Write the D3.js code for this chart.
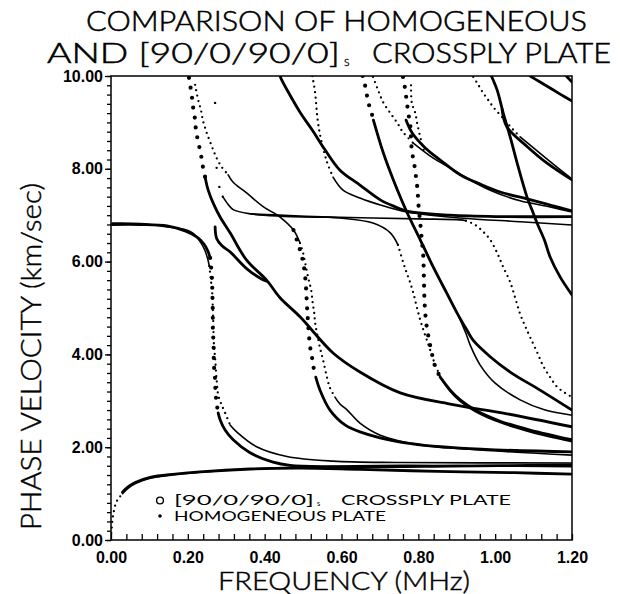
<!DOCTYPE html>
<html><head><meta charset="utf-8">
<script src="https://cdn.jsdelivr.net/npm/d3@7"></script>
<style>
body{margin:0;background:#fff}
svg text{fill:#000}
</style></head>
<body><svg id="chart" width="620" height="594"></svg>
<script>
// Axis ticks and labels
const freqTicks = [0, 0.2, 0.4, 0.6, 0.8, 1.0, 1.2];
const freqTickLabels = ["0.00", "0.20", "0.40", "0.60", "0.80", "1.00", "1.20"];
const velTicks = [0, 2, 4, 6, 8, 10];
const velTickLabels = ["0.00", "2.00", "4.00", "6.00", "8.00", "10.00"];

// Dispersion branches, [frequency MHz, phase velocity km/sec]
// ---- [90/0/90/0]s crossply plate ----
const crossplyFund = [[0.030,1.03],[0.042,1.13],[0.063,1.24],[0.102,1.35],[0.167,1.42],[0.232,1.47],[0.362,1.53],[0.492,1.55],[0.650,1.52],[0.850,1.48],[1.050,1.45],[1.200,1.42]];
const crossplyS0Plateau = [[0.003,6.80],[0.076,6.80],[0.146,6.77],[0.193,6.66],[0.224,6.53],[0.242,6.38],[0.253,6.21],[0.258,6.08]];
const crossplyS0Drop = [[0.258,6.08],[0.260,5.93],[0.263,5.60],[0.264,5.26],[0.265,4.89],[0.265,4.59],[0.267,4.20],[0.268,3.77],[0.271,3.45],[0.272,3.19],[0.275,2.95],[0.279,2.74]];
const crossplyS0Tail = [[0.279,2.74],[0.284,2.59],[0.297,2.37],[0.318,2.16],[0.362,1.88],[0.422,1.68],[0.466,1.61],[0.570,1.58],[0.883,1.59],[1.200,1.62]];
const crossplyM2Drop = [[0.203,9.96],[0.210,9.59],[0.214,9.31],[0.219,9.05],[0.221,8.84],[0.225,8.66],[0.230,8.47],[0.234,8.34],[0.236,8.19],[0.240,8.01],[0.245,7.82]];
const crossplyM2 = [[0.245,7.82],[0.253,7.54],[0.266,7.26],[0.284,6.96],[0.310,6.62],[0.353,6.03],[0.405,5.60],[0.440,5.22],[0.492,4.81],[0.578,4.03],[0.648,3.62],[0.753,3.17],[0.883,2.93],[1.031,2.72],[1.200,2.44]];
const crossplyM2Branch = [[0.271,6.75],[0.275,6.50],[0.289,6.34],[0.310,6.21],[0.353,5.85],[0.393,5.62],[0.405,5.58]];
const crossplyM3Drop = [[0.475,6.68],[0.492,6.25],[0.500,5.99],[0.505,5.71],[0.508,5.39],[0.510,5.06],[0.513,4.68],[0.518,4.18],[0.523,3.95],[0.527,3.73],[0.533,3.51]];
const crossplyM3Tail = [[0.533,3.51],[0.544,3.23],[0.570,2.80],[0.609,2.48],[0.648,2.33],[0.753,2.11],[0.909,1.98],[1.200,1.90]];
const crossplyM5 = [[0.440,10.0],[0.443,9.94],[0.461,9.66],[0.492,9.22],[0.526,8.81],[0.557,8.41],[0.596,7.97],[0.648,7.65],[0.701,7.33],[0.740,7.18],[0.770,7.09],[0.883,7.00],[1.013,6.97],[1.200,6.97]];
const crossplyM6Drop = [[0.760,9.98],[0.766,9.70],[0.770,9.44],[0.774,9.20],[0.779,8.94],[0.783,8.40],[0.789,8.12],[0.794,7.82],[0.798,7.54],[0.800,7.26],[0.805,6.83],[0.809,6.47],[0.813,6.10],[0.814,5.82],[0.815,5.45],[0.816,5.17],[0.818,4.89],[0.822,4.59],[0.828,4.31],[0.835,4.03],[0.844,3.73],[0.857,3.51]];
const crossplyM6Tail = [[0.857,3.51],[0.883,3.23],[0.909,3.02],[0.948,2.80],[1.013,2.56],[1.091,2.37],[1.200,2.16]];
const crossplyM7Top = [[0.655,10.0],[0.661,9.81],[0.666,9.59],[0.670,9.42],[0.676,9.27],[0.683,9.05]];
const crossplyM7 = [[0.683,9.05],[0.709,8.34],[0.735,7.76],[0.770,7.07],[0.805,6.47],[0.839,5.88],[0.874,5.32],[0.901,4.89],[0.926,4.53],[0.943,4.30],[0.987,3.95],[1.039,3.62],[1.117,3.23],[1.200,2.80]];
const crossplyM8 = [[0.768,9.05],[0.784,8.77],[0.818,8.45],[0.857,8.19],[0.909,7.87],[0.961,7.67],[1.013,7.50],[1.083,7.35],[1.143,7.22],[1.200,7.09]];
const crossplyM9 = [[0.990,10.0],[1.005,9.70],[1.021,9.20],[1.039,8.69],[1.060,8.04],[1.083,7.39],[1.096,7.11],[1.109,6.83],[1.128,6.47],[1.143,6.10],[1.169,5.67],[1.200,5.28]];
const crossplyM10 = [[1.018,9.28],[1.030,8.91],[1.083,8.48],[1.135,8.12],[1.200,7.76]];
const crossplyM11 = [[1.091,10.0],[1.117,9.87],[1.143,9.74],[1.169,9.61],[1.200,9.46]];
const crossplyM12 = [[1.185,10.0],[1.200,9.87]];

// ---- homogeneous plate ----
const homogFundDots = [[0.001,0.15],[0.004,0.45],[0.008,0.64],[0.013,0.80],[0.020,0.90],[0.030,1.00]];
const homogFund = [[0.030,1.00],[0.045,1.12],[0.065,1.22],[0.102,1.33],[0.167,1.41],[0.232,1.46],[0.362,1.53],[0.492,1.57],[0.753,1.61],[0.961,1.60],[1.200,1.58]];
const homogS0Plateau = [[0.003,6.83],[0.076,6.82],[0.154,6.74],[0.188,6.70],[0.214,6.61],[0.232,6.43],[0.244,6.25],[0.252,6.05],[0.256,5.90]];
const homogS0Drop = [[0.256,5.90],[0.260,5.60],[0.263,5.39],[0.266,4.74],[0.268,4.20],[0.271,3.92],[0.275,3.45],[0.279,3.13],[0.288,2.91],[0.297,2.74],[0.310,2.48]];
const homogS0Tail = [[0.310,2.48],[0.327,2.33],[0.379,2.01],[0.458,1.80],[0.578,1.70],[0.753,1.67],[1.200,1.66]];
const homogM2Drop = [[0.219,9.81],[0.227,9.48],[0.234,9.27],[0.239,9.05],[0.245,8.88],[0.251,8.73],[0.258,8.58],[0.266,8.41],[0.275,8.23],[0.288,8.04],[0.305,7.87]];
const homogM2 = [[0.305,7.87],[0.318,7.71],[0.353,7.48],[0.397,7.18],[0.440,6.96],[0.475,6.68],[0.492,6.40]];
const homogM2Drop2 = [[0.492,6.40],[0.500,6.19],[0.505,5.99],[0.510,5.78],[0.516,5.56],[0.521,5.39],[0.525,5.11],[0.529,4.89],[0.531,4.70],[0.536,4.46],[0.544,4.14],[0.552,3.88],[0.562,3.51],[0.570,3.28],[0.583,3.08]];
const homogM2Tail = [[0.583,3.08],[0.596,2.93],[0.615,2.80],[0.648,2.52],[0.701,2.26],[0.805,2.05],[0.961,1.94],[1.200,1.83]];
const homogM4Points = [[0.271,9.42],[0.275,8.02],[0.282,7.61],[0.291,7.40]];
const homogM4 = [[0.291,7.40],[0.305,7.23],[0.318,7.12],[0.362,7.03],[0.440,6.98],[0.622,6.95],[0.800,6.92],[0.909,6.90],[0.924,6.88]];
const homogM4Drop = [[0.924,6.88],[0.948,6.79],[0.969,6.64],[0.987,6.47],[1.005,6.19],[1.021,5.88],[1.039,5.56],[1.052,5.22],[1.065,4.87],[1.078,4.61],[1.091,4.37],[1.109,4.05],[1.125,3.75],[1.143,3.51],[1.161,3.30],[1.182,3.17],[1.200,3.08]];
const homogM5Drop = [[0.524,10.0],[0.526,9.91],[0.531,9.66],[0.538,9.05],[0.546,8.66],[0.562,8.15],[0.578,7.82]];
const homogM5 = [[0.578,7.82],[0.604,7.54],[0.648,7.37],[0.701,7.22],[0.770,7.07],[0.909,6.94],[1.065,6.86],[1.200,6.79]];
const homogM6 = [[0.362,7.03],[0.492,6.98],[0.596,6.94],[0.682,6.83],[0.727,6.62],[0.747,6.36]];
const homogM6Drop = [[0.747,6.36],[0.761,5.97],[0.770,5.75],[0.779,5.54],[0.787,5.32],[0.796,5.02],[0.805,4.74],[0.813,4.53],[0.822,4.31],[0.831,4.09],[0.841,3.84],[0.852,3.62],[0.857,3.51]];
const homogM6Tail = [[0.857,3.51],[0.883,3.20],[0.909,2.99],[0.948,2.77],[1.013,2.53],[1.091,2.33],[1.200,2.12]];
const homogM7 = [[0.683,9.05],[0.709,8.34],[0.735,7.76],[0.770,7.07],[0.805,6.47],[0.839,5.88],[0.874,5.32],[0.901,4.89],[0.924,4.45],[0.935,4.20],[0.961,3.77],[1.000,3.38],[1.065,3.02],[1.130,2.80],[1.200,2.69]];
const homogM8Drop = [[0.682,9.98],[0.695,9.70],[0.708,9.44],[0.727,9.20],[0.745,8.99],[0.760,8.79],[0.786,8.56]];
const homogM8 = [[0.786,8.56],[0.839,8.23],[0.883,8.02],[0.935,7.76],[0.987,7.54],[1.065,7.31],[1.143,7.18],[1.200,7.07]];
const homogM9Drop = [[0.781,9.80],[0.783,9.42],[0.792,9.20],[0.798,8.94],[0.807,8.62],[0.815,8.37]];
const homogM10Drop = [[0.943,9.98],[0.956,9.81],[0.969,9.63],[0.982,9.48],[0.995,9.33],[1.013,9.16],[1.031,8.99],[1.047,8.84],[1.065,8.69]];
const homogM10 = [[1.065,8.69],[1.117,8.33],[1.160,8.04],[1.200,7.78]];

// Branch groups by how the markers read: dense runs as solid, sparse runs as dots
const crossplySolid = [crossplyFund, crossplyS0Plateau, crossplyS0Tail, crossplyM2, crossplyM2Branch, crossplyM3Tail, crossplyM5, crossplyM6Tail, crossplyM7, crossplyM8, crossplyM9, crossplyM10, crossplyM11, crossplyM12];
const crossplyDotted = [crossplyS0Drop, crossplyM2Drop, crossplyM3Drop, crossplyM6Drop, crossplyM7Top];
const homogSolid = [homogFund, homogS0Plateau, homogS0Tail, homogM2, homogM2Tail, homogM4, homogM5, homogM6, homogM6Tail, homogM7, homogM8, homogM10];
const homogDotted = [homogFundDots, homogS0Drop, homogM2Drop, homogM2Drop2, homogM4Drop, homogM5Drop, homogM6Drop, homogM8Drop, homogM9Drop, homogM10Drop];

const svg = d3.select("#chart");
const x = d3.scaleLinear().domain([0, 1.2]).range([111, 572]);
const y = d3.scaleLinear().domain([0, 10]).range([540, 76]);

const plotFont = "Lato, 'DejaVu Sans', sans-serif";
const tickFont = "'Liberation Sans', Arial, sans-serif";

svg.append("defs").append("clipPath").attr("id", "plot")
  .append("rect").attr("x", x(0)).attr("y", y(10))
  .attr("width", x(1.2) - x(0)).attr("height", y(0) - y(10));

const line = d3.line().x(d => x(d[0])).y(d => y(d[1])).curve(d3.curveCatmullRom.alpha(0.5));
const curves = svg.append("g").attr("clip-path", "url(#plot)")
  .attr("fill", "none").attr("stroke", "#000").attr("stroke-linecap", "round").attr("stroke-linejoin", "round");

curves.selectAll("path.hs").data(homogSolid).join("path").attr("class", "hs")
  .attr("d", line).attr("stroke-width", 1.6);
curves.selectAll("path.cs").data(crossplySolid).join("path").attr("class", "cs")
  .attr("d", line).attr("stroke-width", 2.8);
curves.selectAll("path.hd").data(homogDotted).join("path").attr("class", "hd")
  .attr("d", line).attr("stroke-width", 2.3).attr("stroke-dasharray", "0 5.5");
curves.selectAll("path.cd").data(crossplyDotted).join("path").attr("class", "cd")
  .attr("d", line).attr("stroke-width", 4.2).attr("stroke-dasharray", "0 10");
curves.selectAll("circle.hp").data(homogM4Points).join("circle").attr("class", "hp")
  .attr("cx", d => x(d[0])).attr("cy", d => y(d[1])).attr("r", 1.2).attr("fill", "#000").attr("stroke", "none");

// Frame
svg.append("rect").attr("x", x(0)).attr("y", y(10))
  .attr("width", x(1.2) - x(0)).attr("height", y(0) - y(10))
  .attr("fill", "none").attr("stroke", "#000").attr("stroke-width", 1.5);

// Frequency axis: minor ticks every 0.04, pointing into the plot
const xAxis = svg.append("g").attr("transform", `translate(0,${y(0)})`)
  .call(d3.axisBottom(x).tickValues(d3.range(0, 31).map(i => i * 0.04)).tickSize(-6).tickFormat(""));
xAxis.select(".domain").remove();
xAxis.selectAll("line").attr("stroke-width", 1.3);
const xLab = svg.append("g").attr("transform", `translate(0,${y(0)})`)
  .call(d3.axisBottom(x).tickValues(freqTicks).tickSize(0).tickPadding(12).tickFormat((d, i) => freqTickLabels[i]));
xLab.select(".domain").remove();
xLab.selectAll("text").attr("font-family", tickFont).attr("font-weight", "bold").attr("font-size", 16).attr("fill", "#000");

// Velocity axis: minor ticks every 0.2, pointing outward
const yAxis = svg.append("g").attr("transform", `translate(${x(0)},0)`)
  .call(d3.axisLeft(y).tickValues(d3.range(0, 51).map(i => i * 0.2)).tickSize(4).tickFormat(""));
yAxis.select(".domain").remove();
yAxis.selectAll("line").attr("stroke-width", 1.3);
const yLab = svg.append("g").attr("transform", `translate(${x(0)},0)`)
  .call(d3.axisLeft(y).tickValues(velTicks).tickSize(6).tickPadding(2).tickFormat((d, i) => velTickLabels[i]));
yLab.select(".domain").remove();
yLab.selectAll("line").attr("stroke-width", 1.3);
yLab.selectAll("text").attr("font-family", tickFont).attr("font-weight", "bold").attr("font-size", 16).attr("fill", "#000");

// Titles in a light stroke face, slightly outlined to thicken the strokes
const title = svg.append("g").attr("font-family", plotFont).attr("font-weight", 300).attr("font-size", 27)
  .attr("stroke", "#000").attr("stroke-width", 0.5);
title.append("text").attr("x", 86).attr("y", 30.5).attr("textLength", 501).attr("lengthAdjust", "spacingAndGlyphs")
  .text("COMPARISON OF HOMOGENEOUS");
title.append("text").attr("x", 47).attr("y", 63).attr("textLength", 293).attr("lengthAdjust", "spacingAndGlyphs")
  .text("AND [90/0/90/0]");
title.append("text").attr("x", 344).attr("y", 66).attr("font-size", 13).attr("stroke-width", 0.3).text("s");
title.append("text").attr("x", 372).attr("y", 63).attr("textLength", 239).attr("lengthAdjust", "spacingAndGlyphs")
  .text("CROSSPLY PLATE");

const axisTitles = svg.append("g").attr("font-family", plotFont).attr("font-weight", 300)
  .attr("stroke", "#000").attr("stroke-width", 0.45);
axisTitles.append("text").attr("font-size", 25)
  .attr("x", 218).attr("y", 590).attr("textLength", 252).attr("lengthAdjust", "spacingAndGlyphs")
  .text("FREQUENCY (MHz)");
axisTitles.append("text").attr("font-size", 28)
  .attr("transform", "translate(41,530) rotate(-90)").attr("textLength", 347).attr("lengthAdjust", "spacingAndGlyphs")
  .text("PHASE VELOCITY (km/sec)");

// Legend
const legend = svg.append("g").attr("font-family", plotFont).attr("font-size", 13.5);
legend.append("circle").attr("cx", 160).attr("cy", 500.5).attr("r", 3.4).attr("fill", "none").attr("stroke", "#000").attr("stroke-width", 1.4);
legend.append("circle").attr("cx", 160).attr("cy", 516).attr("r", 1.8).attr("fill", "#000");
legend.append("text").attr("x", 174).attr("y", 505).attr("textLength", 140).attr("lengthAdjust", "spacingAndGlyphs").text("[90/0/90/0]");
legend.append("text").attr("x", 317).attr("y", 506).attr("font-size", 7.5).text("s");
legend.append("text").attr("x", 341).attr("y", 505).attr("textLength", 170).attr("lengthAdjust", "spacingAndGlyphs").text("CROSSPLY PLATE");
legend.append("text").attr("x", 174).attr("y", 521).attr("textLength", 212).attr("lengthAdjust", "spacingAndGlyphs").text("HOMOGENEOUS PLATE");
</script></body></html>
